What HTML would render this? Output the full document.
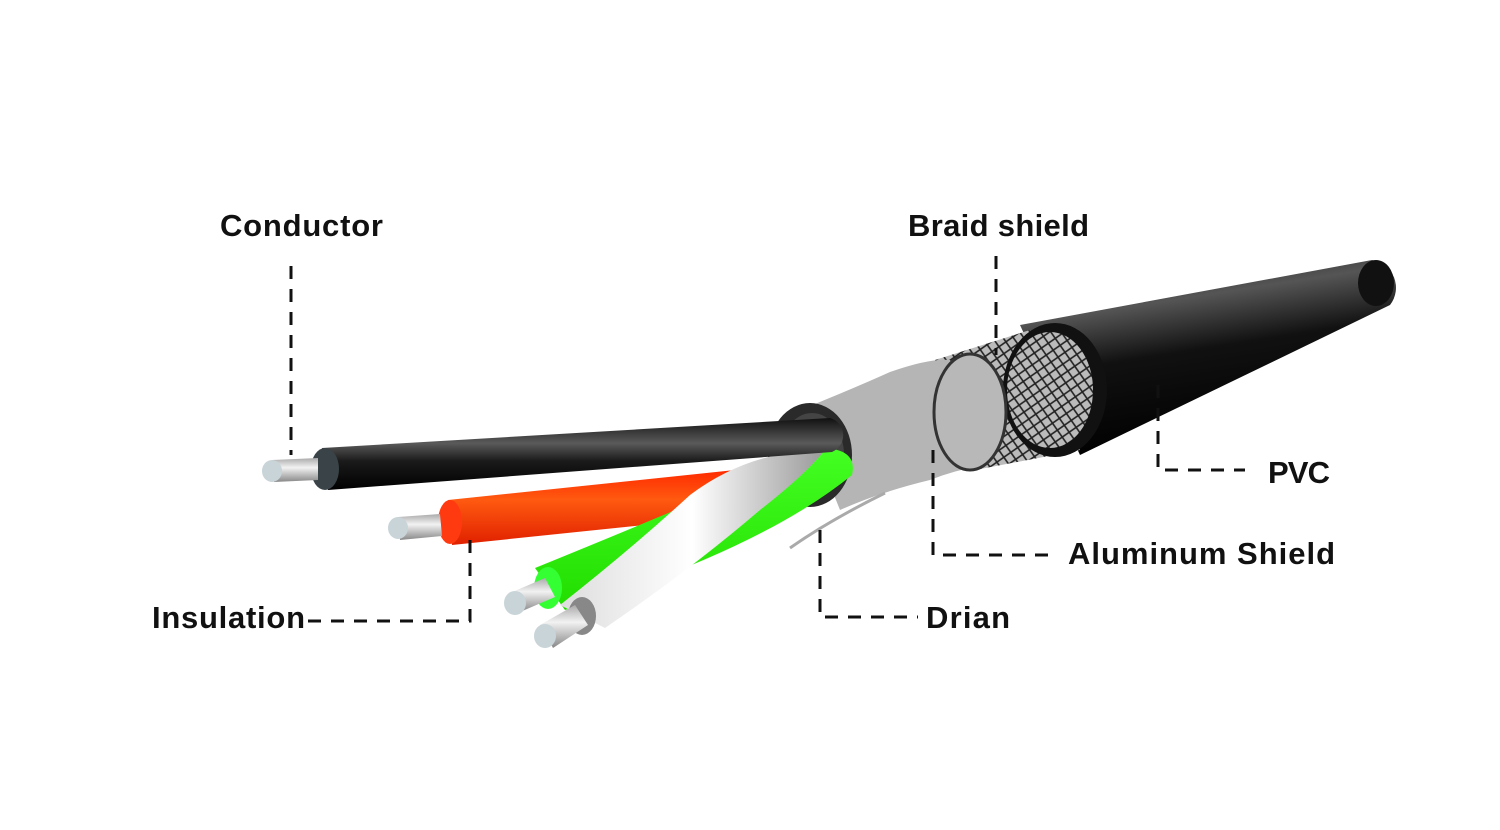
<!DOCTYPE html>
<html><head><style>html,body{margin:0;padding:0;background:#fff}svg{display:block}</style></head>
<body>
<svg width="1500" height="830" viewBox="0 0 1500 830" xmlns="http://www.w3.org/2000/svg">
<defs>
<linearGradient id="blk" x1="0" y1="0" x2="0" y2="1"><stop offset="0" stop-color="#111"/><stop offset="0.35" stop-color="#5a5a5a"/><stop offset="0.6" stop-color="#1a1a1a"/><stop offset="1" stop-color="#000"/></linearGradient>
<linearGradient id="pvc" x1="0" y1="0" x2="0.3" y2="1"><stop offset="0" stop-color="#111"/><stop offset="0.3" stop-color="#555"/><stop offset="0.55" stop-color="#111"/><stop offset="1" stop-color="#000"/></linearGradient>
<linearGradient id="red" x1="0" y1="0" x2="0" y2="1"><stop offset="0" stop-color="#ff2a00"/><stop offset="0.4" stop-color="#ff5a10"/><stop offset="1" stop-color="#e02000"/></linearGradient>
<linearGradient id="grn" x1="0" y1="0" x2="0" y2="1"><stop offset="0" stop-color="#44ff22"/><stop offset="1" stop-color="#22dd00"/></linearGradient>
<linearGradient id="wht" x1="0" y1="0" x2="1" y2="0"><stop offset="0" stop-color="#ddd"/><stop offset="0.5" stop-color="#fff"/><stop offset="1" stop-color="#999"/></linearGradient>
<linearGradient id="cu" x1="0" y1="0" x2="0" y2="1"><stop offset="0" stop-color="#aaa"/><stop offset="0.4" stop-color="#f2f2f2"/><stop offset="1" stop-color="#888"/></linearGradient>
<pattern id="braid" width="12" height="12" patternUnits="userSpaceOnUse" patternTransform="rotate(10)"><rect width="12" height="12" fill="#bbb"/><path d="M0 0L12 12M12 0L0 12" stroke="#222" stroke-width="1.6"/></pattern>
</defs>

<!-- PVC jacket -->
<path d="M1020 325 L1372 260 A28 28 0 0 1 1390 305 L1080 455 Z" fill="url(#pvc)"/>
<ellipse cx="1376" cy="283" rx="18" ry="23" fill="#111"/>
<!-- braid section -->
<path d="M935 360 L1030 330 L1080 450 L975 470 Z" fill="url(#braid)"/>
<ellipse cx="1055" cy="390" rx="52" ry="67" fill="#111"/>
<ellipse cx="1050" cy="390" rx="43" ry="58" fill="url(#braid)"/>
<!-- aluminum shield -->
<path d="M800 410 Q850 390 890 372 Q930 358 950 360 L985 465 Q955 470 930 480 Q880 492 840 510 Z" fill="#b5b5b5"/>
<ellipse cx="970" cy="412" rx="36" ry="58" fill="#b8b8b8" stroke="#333" stroke-width="3"/>
<!-- drain -->
<path d="M790 548 Q830 520 885 493" stroke="#aaa" stroke-width="3" fill="none"/>
<!-- inner jacket ring -->
<ellipse cx="810" cy="455" rx="42" ry="52" fill="#2a2a2a"/>
<ellipse cx="812" cy="455" rx="32" ry="42" fill="#444"/>

<!-- red wire -->
<path d="M448 500 L735 470 L740 515 L452 545 Z" fill="url(#red)"/>
<ellipse cx="450" cy="522" rx="12" ry="22" fill="#ff3a10"/>
<path d="M398 517 L440 514 L442 536 L400 540 Z" fill="url(#cu)"/>
<ellipse cx="398" cy="528" rx="10" ry="11" fill="#c8d4d8"/>

<!-- green wire -->
<path d="M535 568 Q690 505 820 448 Q858 448 852 475 Q760 550 565 610 Z" fill="url(#grn)"/>
<ellipse cx="548" cy="588" rx="14" ry="21" fill="#3f3"/>
<path d="M510 593 L545 578 L555 597 L520 612 Z" fill="url(#cu)"/>
<ellipse cx="515" cy="603" rx="11" ry="12" fill="#c8d4d8"/>

<!-- white wire -->
<path d="M560 605 Q630 550 690 495 Q750 450 825 450 Q805 475 760 510 Q690 570 605 628 Z" fill="url(#wht)"/>
<ellipse cx="582" cy="616" rx="14" ry="19" fill="#888"/>
<path d="M540 625 L575 605 L588 625 L553 648 Z" fill="url(#cu)"/>
<ellipse cx="545" cy="636" rx="11" ry="12" fill="#c8d4d8"/>

<!-- black wire -->
<path d="M322 448 L830 418 A18 18 0 0 1 832 452 L328 490 Z" fill="url(#blk)"/>
<ellipse cx="325" cy="469" rx="14" ry="21" fill="#3a4448"/>
<path d="M272 460 L318 458 L318 480 L274 482 Z" fill="url(#cu)"/>
<ellipse cx="272" cy="471" rx="10" ry="11" fill="#c8d4d8"/>

<!-- dashed leaders -->
<g stroke="#111" stroke-width="3" fill="none" stroke-dasharray="13 10">
<path d="M291 266 V455"/>
<path d="M996 256 V355"/>
<path d="M1158 385 V470 H1245"/>
<path d="M933 450 V555 H1055"/>
<path d="M820 530 V617 H918"/>
<path d="M470 540 V621 H300"/>
</g>

<g font-family="Liberation Sans, sans-serif" font-weight="bold" font-size="31" fill="#111">
<text x="220" y="236" textLength="163">Conductor</text>
<text x="908" y="236" textLength="181">Braid shield</text>
<text x="1268" y="483" textLength="62">PVC</text>
<text x="1068" y="564" textLength="267">Aluminum Shield</text>
<text x="926" y="628" textLength="84">Drian</text>
<text x="152" y="628" textLength="153">Insulation</text>
</g>
</svg>
</body></html>
